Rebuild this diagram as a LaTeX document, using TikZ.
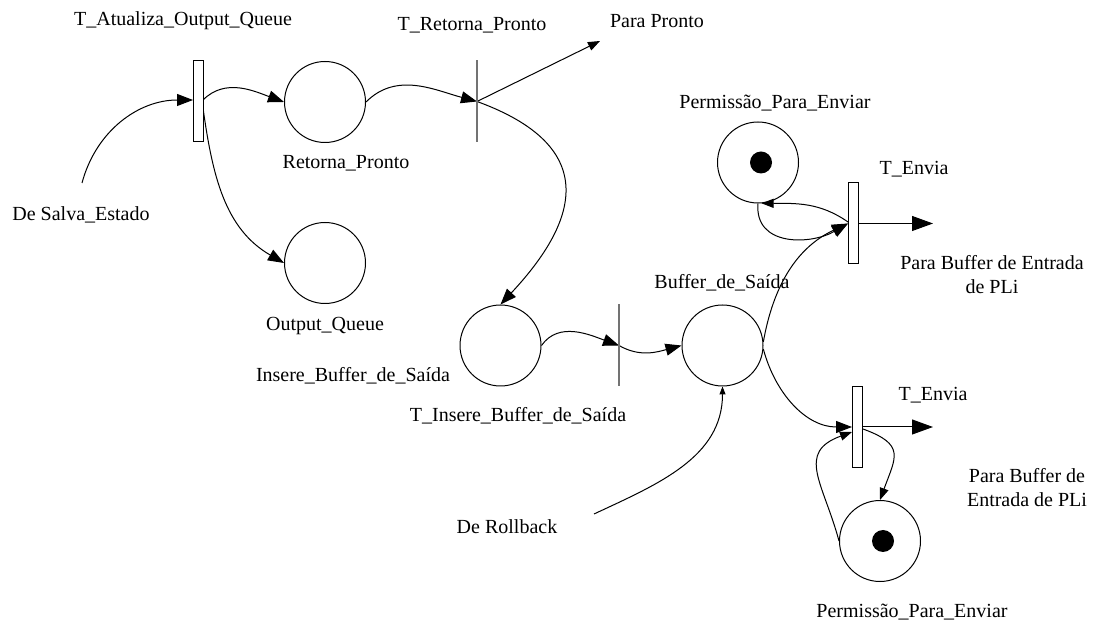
\documentclass[tikz,border=0pt]{standalone}
\usepackage{fontspec}
\setmainfont{Liberation Serif}
\usetikzlibrary{arrows.meta, positioning}

\begin{document}
\begin{tikzpicture}[x=1pt, y=1pt, line width=1pt,
    every node/.style={font=\fontsize{20}{24}\selectfont},
    place/.style={circle, draw, minimum size=81pt, inner sep=0pt},
    trans/.style={rectangle, draw, fill=white, minimum width=10pt, minimum height=81pt, inner sep=0pt},
    bartrans/.style={rectangle, minimum width=0pt, minimum height=81pt, inner sep=0pt},
    flow/.style={-{Triangle[length=16pt,width=12pt]}},
    flowm/.style={-{Triangle[length=12pt,width=9pt]}},
    flows/.style={-{Triangle[length=8pt,width=6pt]}},
    flowout/.style={-{Triangle[length=21pt,width=15pt]}}]
  \useasboundingbox (0,0) rectangle (1095,624);

  % places and transitions
  \node[place] (retorna) at (325,522) {};
  \node[place] (outq) at (325,361) {};
  \node[bartrans] (tretorna) at (477,522.5) {};
  \node[place] (insere) at (500.5,278.5) {};
  \node[bartrans] (tinsere) at (619,278.5) {};
  \node[place] (buffer) at (722.5,278.5) {};
  \node[place] (perm1) at (758,461.5) {};
  \node[place] (perm2) at (880,83) {};
  \fill ([xshift=3pt]perm1.center) circle[radius=11];
  \fill ([xshift=3pt]perm2.center) circle[radius=11];

  % labels
  \node (latualiza) at (183,603) {T\_Atualiza\_Output\_Queue};
  \node (lretorna) at (346,461) {Retorna\_Pronto};
  \node (loutq) at (325,298) {Output\_Queue};
  \node (lsalva) at (81,409) {De Salva\_Estado};
  \node (ltretorna) at (472,599) {T\_Retorna\_Pronto};
  \node (lpronto) at (657,603) {Para Pronto};
  \node (linsere) at (353,248) {Insere\_Buffer\_de\_Saída};
  \node (ltinsere) at (518,208) {T\_Insere\_Buffer\_de\_Saída};
  \node (lbuffer) at (722,341) {Buffer\_de\_Saída};
  \node (lrollback) at (507,97) {De Rollback};
  \node (lperm1) at (775,521) {Permissão\_Para\_Enviar};
  \node (lenvia1) at (914,455) {T\_Envia};
  \node[align=center] (lpara1) at (992,349.5) {Para Buffer de Entrada\\de PLi};
  \node (lenvia2) at (933,229) {T\_Envia};
  \node[align=center] (lpara2) at (1027,136.5) {Para Buffer de\\Entrada de PLi};
  \node (lperm2) at (912,12) {Permissão\_Para\_Enviar};

  % loose ends
  \coordinate (salva) at (82,441);
  \coordinate (pronto) at (600,583);
  \coordinate (rollback) at (594,110);
  \coordinate (out1) at (933,400.5);
  \coordinate (out2) at (933,197);

  % arcs
  \draw[flow] (salva) to[out=75, in=180] (193,524);
  \draw[flow] (203,524) to[out=45, in=160] (retorna.west);
  \draw[flow] (203,516) to[out=-82, in=150] (outq.west);
  \draw[flow] (retorna.east) to[out=45, in=165] (tretorna.center);
  \draw[flowm] (tretorna.center) -- (pronto);
  \draw[flow] (tretorna.center) .. controls (610,474) and (570,394) .. (insere.north);
  \draw[flow] (insere.east) to[out=55, in=160] (tinsere.center);
  \draw[flow] (tinsere.center) to[out=-30, in=195] (buffer.west);
  \draw[flows] (rollback) to[out=25, in=-90] (buffer.south);
  \draw[flow] (buffer.5) to[out=80, in=205] (848,400.5);
  \draw[flow] (perm1.south) to[out=-95, in=210, looseness=1.2] (848,400.5);
  \draw[flowm] (848,402) to[out=145, in=0] (perm1.-85);
  \draw[flow] (buffer.-5) to[out=-75, in=180] (852,197);
  \draw[flowm] (863,195) to[out=-20, in=70, looseness=1.6] (perm2.north);
  \draw[flowm] (perm2.west) to[out=105, in=200, looseness=1.4] (852,192);

  % transitions on top
  \node[trans] (atualiza) at (198,522.5) {};
  \node[trans] (envia1) at (853,400.5) {};
  \node[trans] (envia2) at (857.5,197) {};
  \draw[black!55, line width=1.5pt] (tretorna.north) -- (tretorna.south);
  \draw[black!55, line width=1.5pt] (tinsere.north) -- (tinsere.south);
  \draw[flowout] (envia1.east) -- (out1);
  \draw[flowout] (envia2.east) -- (out2);
\end{tikzpicture}
\end{document}
